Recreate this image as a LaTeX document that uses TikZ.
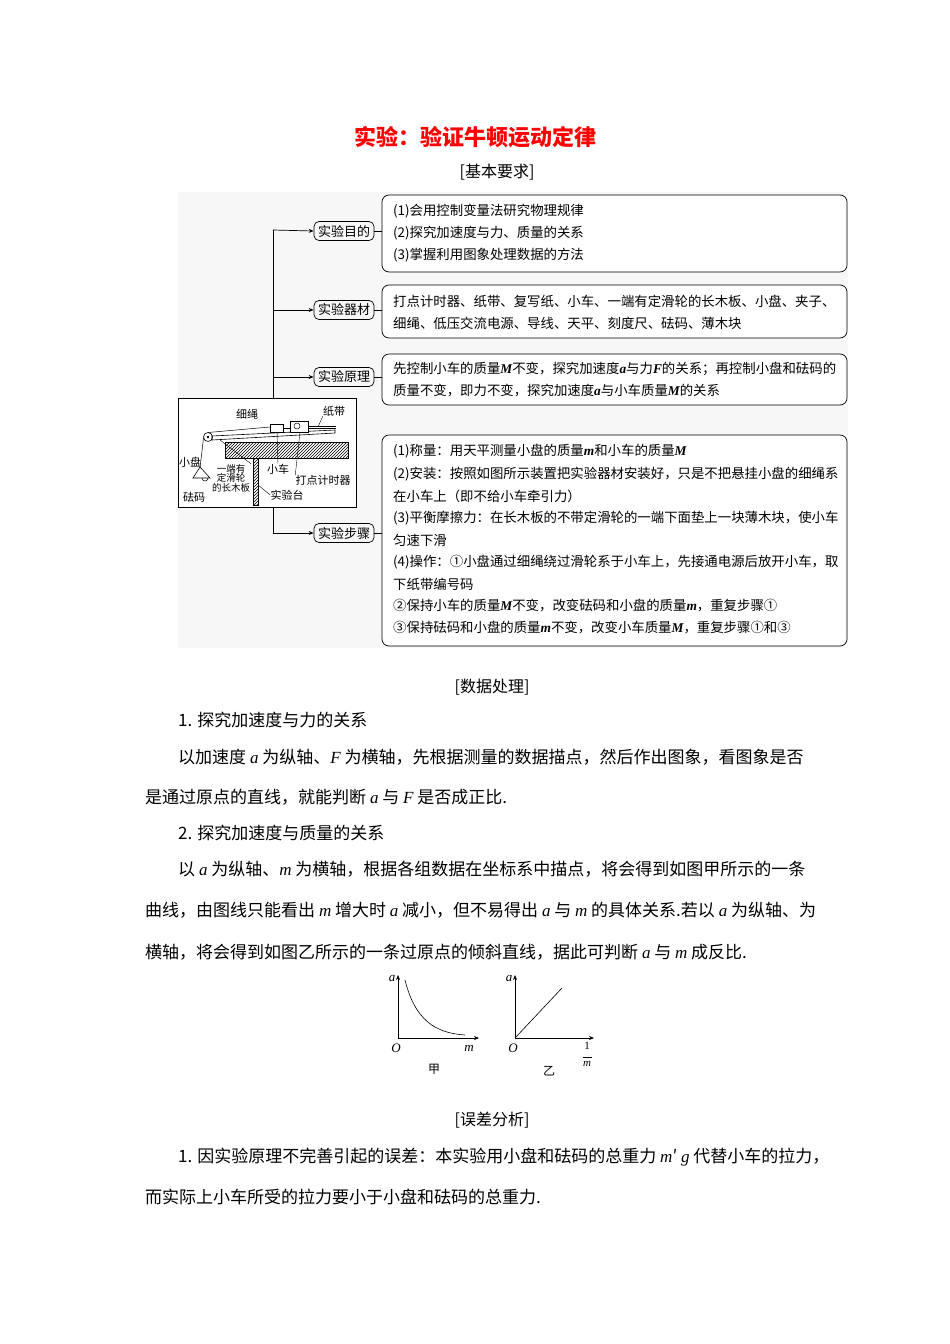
\documentclass[tikz,border=0pt]{standalone}
\usepackage{fontspec}
\setmainfont{Noto Sans CJK SC}
\newfontfamily\lat{Liberation Serif}
\usetikzlibrary{patterns,arrows.meta}
\newcommand{\fs}[1]{\fontsize{#1}{#1}\selectfont}
\newcommand{\vb}[1]{{\lat\bfseries\itshape #1}}
\newcommand{\vi}[1]{{\lat\itshape #1}}
\begin{document}
\begin{tikzpicture}[x=1pt,y=-1pt,
  lbl/.style={draw,rounded corners=5pt,line width=0.7pt,minimum width=60pt,minimum height=19pt,inner sep=1pt,font=\fs{13}},
  cbox/.style={draw,rounded corners=7pt,line width=0.7pt,fill=white},
  ct/.style={anchor=west,inner sep=0,font=\fs{13.4}},
  bt/.style={anchor=west,inner sep=0,font=\fs{17}},
  sm/.style={inner sep=0,font=\fs{11}},
  arr/.style={-{Stealth[length=5pt,width=4pt]},line width=0.7pt}]
\useasboundingbox (0,0) rectangle (950,1344);
\fill[white] (0,0) rectangle (950,1344);
\fill[black!3] (178,192) rectangle (848,648);
\node[inner sep=0,font=\fs{22}\bfseries,text=red] (title) at (475,137) {实验：验证牛顿运动定律};
\node[inner sep=0,font=\fs{16}] (h1) at (497,172) {[基本要求]};
% trunk
\coordinate (t1) at (273,230); \coordinate (t2) at (273,310);
\coordinate (t3) at (273,377); \coordinate (t4) at (273,533);
\node[lbl] (l1) at (344,231) {实验目的};
\node[lbl] (l2) at (344,310) {实验器材};
\node[lbl] (l3) at (344,377) {实验原理};
\node[lbl] (l4) at (344,533) {实验步骤};
\draw[line width=0.7pt] (t1) -- (273,398) (273,507) -- (t4);
\draw[arr] (t1) -- (l1.west);
\draw[arr] (t2) -- (l2.west);
\draw[arr] (t3) -- (l3.west);
\draw[arr] (t4) -- (l4.west);
% content boxes
\draw[cbox] (382,195) rectangle (847,272);
\draw[cbox] (382,285) rectangle (847,338);
\draw[cbox] (382,354) rectangle (847,405);
\draw[cbox] (382,435) rectangle (847,646);
\draw[line width=0.7pt] (l1.east) -- (382,231) (l2.east) -- (382,310) (l3.east) -- (382,377) (l4.east) -- (382,533);
\node[ct] (c11) at (393,211) {(1)会用控制变量法研究物理规律};
\node[ct] (c12) at (393,233) {(2)探究加速度与力、质量的关系};
\node[ct] (c13) at (393,255) {(3)掌握利用图象处理数据的方法};
\node[ct] (c21) at (393,301) {打点计时器、纸带、复写纸、小车、一端有定滑轮的长木板、小盘、夹子、};
\node[ct] (c22) at (393,323) {细绳、低压交流电源、导线、天平、刻度尺、砝码、薄木块};
\node[ct] (c31) at (393,369) {先控制小车的质量\vb{M}不变，探究加速度\vb{a}与力\vb{F}的关系；再控制小盘和砝码的};
\node[ct] (c32) at (393,391) {质量不变，即力不变，探究加速度\vb{a}与小车质量\vb{M}的关系};
\node[ct] (c41) at (393,451) {(1)称量：用天平测量小盘的质量\vb{m}和小车的质量\vb{M}};
\node[ct] (c42) at (393,474) {(2)安装：按照如图所示装置把实验器材安装好，只是不把悬挂小盘的细绳系};
\node[ct] (c43) at (393,496) {在小车上（即不给小车牵引力）};
\node[ct] (c44) at (393,518) {(3)平衡摩擦力：在长木板的不带定滑轮的一端下面垫上一块薄木块，使小车};
\node[ct] (c45) at (393,540) {匀速下滑};
\node[ct] (c46) at (393,562) {(4)操作：①小盘通过细绳绕过滑轮系于小车上，先接通电源后放开小车，取};
\node[ct] (c47) at (393,584) {下纸带编号码};
\node[ct] (c48) at (393,606) {②保持小车的质量\vb{M}不变，改变砝码和小盘的质量\vb{m}，重复步骤①};
\node[ct] (c49) at (393,628) {③保持砝码和小盘的质量\vb{m}不变，改变小车质量\vb{M}，重复步骤①和③};
% apparatus
\draw[line width=0.7pt,fill=white] (178,398) rectangle (356,507);
\fill[pattern=north east lines] (225,442) rectangle (348,458);
\draw[line width=0.6pt] (225,442) rectangle (348,458);
\fill[pattern=north east lines] (253,458) rectangle (258,505);
\draw[line width=0.6pt] (253,458) rectangle (258,505);
\draw[line width=0.6pt,fill=white] (212,436) -- (335,430) -- (335,433) -- (212,440) -- cycle;
\draw[line width=0.6pt] (208,437) circle (4.5); \fill (208,437) circle (1.3);
\draw[line width=0.6pt,fill=white] (270,424) rectangle (283,432);
\draw[line width=0.6pt,fill=white] (290,421) rectangle (308,432);
\draw[line width=0.5pt] (297,426) circle (3);
\draw[line width=0.5pt] (283,428) -- (290,428) (308,426) -- (336,426) (308,428) -- (336,428);
\draw[line width=0.5pt] (208,432.5) -- (270,427);
\draw[line width=0.5pt] (203.5,438) -- (200,468);
\draw[line width=0.6pt] (193,478) -- (200,467) -- (210,478) -- cycle;
\draw[line width=0.5pt] (202,478) arc (180:0:3);
\node[sm] (x1) at (247,414) {细绳};
\node[sm] (x2) at (334,411) {纸带};
\node[sm] (x3) at (190,462) {小盘};
\node[sm,align=center,font=\fs{9.5},text width=40pt] (x4) at (231,478) {一端有\\定滑轮\\的长木板};
\node[sm] (x5) at (278,469) {小车};
\node[sm] (x6) at (323,480) {打点计时器};
\node[sm] (x7) at (194,497) {砝码};
\node[sm] (x8) at (287,495) {实验台};
\draw[line width=0.4pt] (x2.south west) -- (318,427);
\draw[line width=0.4pt] (x5.north) -- (277,432);
\draw[line width=0.4pt] (x6.north west) -- (300,432);
\draw[line width=0.4pt] (x8.west) -- (258,485);
\draw[line width=0.4pt] (x4.north east) -- (220,440);
% text
\node[inner sep=0,font=\fs{16}] (h2) at (492,687) {[数据处理]};
\node[bt] (p1) at (178,720) {1. 探究加速度与力的关系};
\node[bt] (p2) at (178,757) {以加速度 \vi{a} 为纵轴、\vi{F} 为横轴，先根据测量的数据描点，然后作出图象，看图象是否};
\node[bt] (p3) at (145,797) {是通过原点的直线，就能判断 \vi{a} 与 \vi{F} 是否成正比.};
\node[bt] (p4) at (178,833) {2. 探究加速度与质量的关系};
\node[bt] (p5) at (178,869) {以 \vi{a} 为纵轴、\vi{m} 为横轴，根据各组数据在坐标系中描点，将会得到如图甲所示的一条};
\node[bt] (p6) at (145,910) {曲线，由图线只能看出 \vi{m} 增大时 \vi{a} 减小，但不易得出 \vi{a} 与 \vi{m} 的具体关系.若以 \vi{a} 为纵轴、为};
\node[bt] (p7) at (145,952) {横轴，将会得到如图乙所示的一条过原点的倾斜直线，据此可判断 \vi{a} 与 \vi{m} 成反比.};
% graphs
\coordinate (o1) at (398,1038); \coordinate (y1) at (398,975); \coordinate (x1e) at (479,1038);
\draw[arr,line width=0.6pt] (o1) -- (y1);
\draw[arr,line width=0.6pt] (o1) -- (x1e);
\draw[line width=0.6pt] (405,980) .. controls (415,1020) and (435,1033) .. (465,1035);
\node[inner sep=0,font=\fs{13}] (ga1) at (392,978) {\vi{a}};
\node[inner sep=0,font=\fs{13}] (go1) at (396,1048) {\vi{O}};
\node[inner sep=0,font=\fs{13}] (gm1) at (469,1048) {\vi{m}};
\node[inner sep=0,font=\fs{12}] (gj) at (434,1069) {甲};
\coordinate (o2) at (515,1038); \coordinate (y2) at (515,975); \coordinate (x2e) at (594,1038);
\draw[arr,line width=0.6pt] (o2) -- (y2);
\draw[arr,line width=0.6pt] (o2) -- (x2e);
\draw[line width=0.6pt] (o2) -- (562,988);
\node[inner sep=0,font=\fs{13}] (ga2) at (509,978) {\vi{a}};
\node[inner sep=0,font=\fs{13}] (go2) at (513,1048) {\vi{O}};
\node[inner sep=0,font=\fs{11},align=center] (gm2) at (587,1054) {\lat 1\\[-3pt]\rule{9pt}{0.5pt}\\[-2pt]\vi{m}};
\node[inner sep=0,font=\fs{12}] (gy) at (549,1071) {乙};
\node[inner sep=0,font=\fs{16}] (h3) at (492,1120) {[误差分析]};
\node[bt] (q1) at (178,1157) {1. 因实验原理不完善引起的误差：本实验用小盘和砝码的总重力 \vi{m}′ \vi{g} 代替小车的拉力，};
\node[bt] (q2) at (145,1197) {而实际上小车所受的拉力要小于小盘和砝码的总重力.};
\end{tikzpicture}
\end{document}
